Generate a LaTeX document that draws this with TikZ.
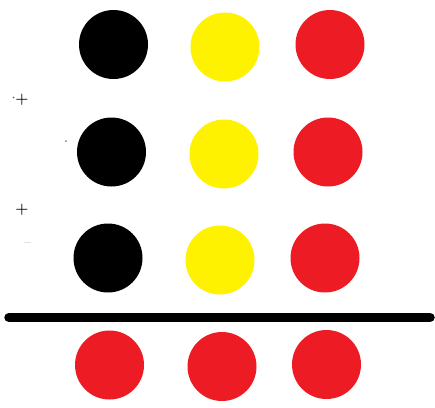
\documentclass[tikz,border=0pt]{standalone}
\usepackage{tikz}
\definecolor{pred}{HTML}{ED1C24}
\definecolor{pyel}{HTML}{FFF200}
\tikzset{
  ball/.style={circle, minimum size=69pt, inner sep=0pt, draw=none},
  bk/.style={ball, fill=black},
  yl/.style={ball, fill=pyel},
  rd/.style={ball, fill=pred},
  plussign/.style={inner sep=0pt, font=\fontsize{15}{15}\selectfont\bfseries},
  bar/.style={line width=9.5pt, line cap=round, black}
}
\begin{document}
\begin{tikzpicture}[x=1pt,y=-1pt]
\useasboundingbox (0,0) rectangle (435,407);
\fill[white] (0,0) rectangle (435,407);
% row 1
\node[bk] (b1) at (113.5,44.5) {};
\node[yl] (y1) at (225,47) {};
\node[rd] (r1) at (330,44.5) {};
% row 2
\node[bk] (b2) at (111.5,152) {};
\node[yl] (y2) at (224,154) {};
\node[rd] (r2) at (328,152) {};
% row 3
\node[bk] (b3) at (108,258) {};
\node[yl] (y3) at (220,260) {};
\node[rd] (r3) at (325,258) {};
% result row
\node[rd] (s1) at (109.5,365) {};
\node[rd] (s2) at (222,366.5) {};
\node[rd] (s3) at (326.5,364.5) {};
% plus signs
\node[plussign] (p1) at (22,100) {+};
\node[plussign] (p2) at (22,210) {+};
% small marks
\fill[gray] (66,141) circle (1pt);
\fill[black!70] (13.5,97.5) circle (0.8pt);
\draw[black!12, line width=1pt] (24,242) -- (31,242);
% sum bar
\coordinate (l0) at (9,317.5);
\coordinate (l1) at (430,317.5);
\draw[bar] (l0) -- (l1);
\end{tikzpicture}
\end{document}
